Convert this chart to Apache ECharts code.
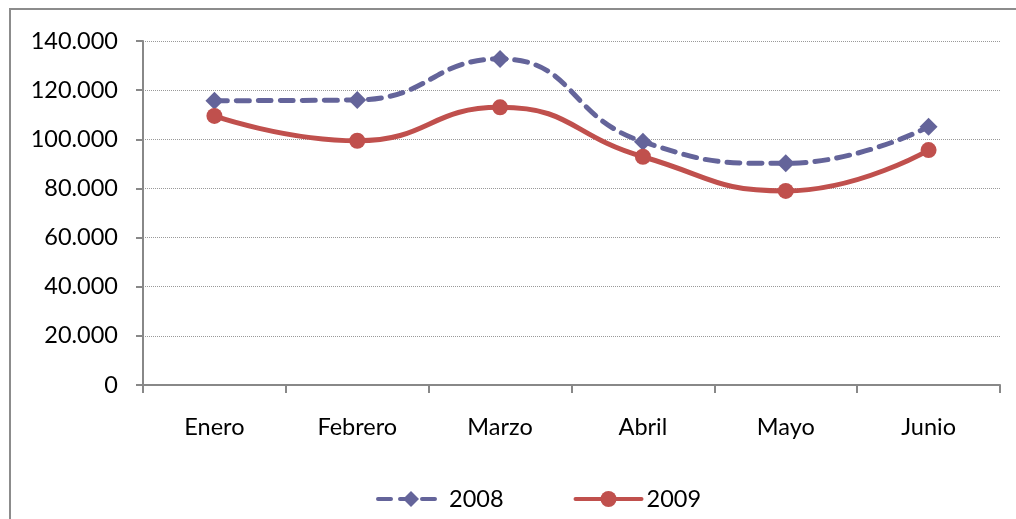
<!DOCTYPE html>
<html>
<head>
<meta charset="utf-8">
<script src="https://cdn.jsdelivr.net/npm/echarts@6/dist/echarts.min.js"></script>
<style>
  html, body { margin: 0; padding: 0; background: #fff; }
  #chart { width: 1016px; height: 519px; }
</style>
</head>
<body>
<div id="chart"></div>
<script>
var meses = ["Enero", "Febrero", "Marzo", "Abril", "Mayo", "Junio"];
var datos2008 = [115700, 116000, 132700, 99000, 90200, 105100];
var datos2009 = [109500, 99400, 113000, 92900, 79000, 95600];

var chart = echarts.init(document.getElementById("chart"));

function miles(v) {
  return String(v).replace(/\B(?=(\d{3})+(?!\d))/g, ".");
}

var option = {
  animation: false,
  textStyle: { fontFamily: "Lato", color: "#000" },
  graphic: [{
    type: "rect",
    shape: { x: 10, y: 9, width: 1020, height: 530 },
    style: { fill: "none", stroke: "#8c8c8c", lineWidth: 2 },
    silent: true
  }],
  grid: { left: 143, right: 16, top: 41, bottom: 134 },
  legend: {
    left: 371,
    top: 482,
    itemWidth: 66,
    itemHeight: 20,
    itemGap: 70,
    lineStyle: { width: 4 },
    textStyle: { fontSize: 23.5, fontFamily: "Lato", color: "#000" },
    data: ["2008", "2009"]
  },
  xAxis: {
    type: "category",
    data: meses,
    boundaryGap: true,
    axisLine: { lineStyle: { color: "#888", width: 2 } },
    axisTick: { show: true, interval: 0, length: 8, lineStyle: { color: "#888", width: 2 } },
    axisLabel: { fontSize: 23.5, margin: 30, color: "#000", fontFamily: "Lato" }
  },
  yAxis: {
    type: "value",
    min: 0,
    max: 140000,
    interval: 20000,
    axisLine: { show: true, lineStyle: { color: "#888", width: 2 } },
    axisTick: { show: true, length: 7, inside: false, lineStyle: { color: "#888", width: 2 } },
    axisLabel: { fontSize: 23.5, margin: 25, color: "#000", fontFamily: "Lato", formatter: miles },
    splitLine: { show: true, lineStyle: { color: "#999", width: 1, type: "dotted" } }
  },
  series: [
    {
      name: "2008",
      type: "line",
      data: datos2008,
      smooth: 0.5,
      symbol: "diamond",
      symbolSize: 18,
      color: "#64649a",
      lineStyle: { width: 5, type: [13, 9], cap: "round" },
      itemStyle: { color: "#64649a" }
    },
    {
      name: "2009",
      type: "line",
      data: datos2009,
      smooth: 0.5,
      symbol: "circle",
      symbolSize: 16,
      color: "#c0504d",
      lineStyle: { width: 5, cap: "round" },
      itemStyle: { color: "#c0504d" }
    }
  ]
};

chart.setOption(option);
</script>
</body>
</html>
